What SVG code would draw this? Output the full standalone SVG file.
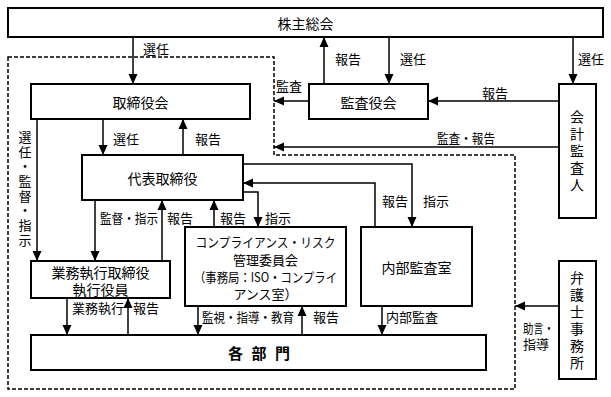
<svg xmlns="http://www.w3.org/2000/svg" width="611" height="397" viewBox="0 0 611 397">
<style>
.box{fill:#fff;stroke:#000;stroke-width:2}
.ar{fill:none;stroke:#000;stroke-width:1.5;marker-end:url(#ah)}
.dash{fill:none;stroke:#000;stroke-width:1.5;stroke-dasharray:4 2}
text{font-family:"Noto Sans CJK JP","Noto Sans CJK SC",sans-serif;fill:#000;dominant-baseline:central}
.n{font-size:14px;text-anchor:middle}
.s{font-size:13px;text-anchor:middle}
.l{font-size:13px}
.vl{font-size:13px;writing-mode:vertical-rl;letter-spacing:1.7px}
.vn{font-size:14px;writing-mode:vertical-rl;letter-spacing:3px}
.b{font-size:15px;font-weight:bold;text-anchor:middle}
</style>
<defs>
<marker id="ah" markerUnits="userSpaceOnUse" markerWidth="10" markerHeight="10" viewBox="0 0 10 10" refX="10" refY="5" orient="auto">
<path d="M0,0.5 L10,5 L0,9.5 Z" fill="#000"/>
</marker>
</defs>
<rect width="611" height="397" fill="#fff"/>
<path class="dash" d="M8,57 H274 V155 H515 V389 H8 Z"/>
<g id="connectors">
<path class="ar" d="M133,37 V84"/>
<path class="ar" d="M324,84 V37"/>
<path class="ar" d="M389,37 V84"/>
<path class="ar" d="M573,37 V84"/>
<path class="ar" d="M309,101 H274"/>
<path class="ar" d="M559,101 H428"/>
<path class="ar" d="M559,147 H274"/>
<path class="ar" d="M103,119 V155"/>
<path class="ar" d="M183,155 V119"/>
<path class="ar" d="M37,119 V261"/>
<path class="ar" d="M95,200 V261"/>
<path class="ar" d="M162,261 V200"/>
<path class="ar" d="M243,192 H258 V227"/>
<path class="ar" d="M214,227 V200"/>
<path class="ar" d="M243,164 H412 V227"/>
<path class="ar" d="M375,227 V183 H243"/>
<path class="ar" d="M67,298 V335"/>
<path class="ar" d="M128,335 V298"/>
<path class="ar" d="M198,306 V335"/>
<path class="ar" d="M302,335 V306"/>
<path class="ar" d="M382,306 V335"/>
<path class="ar" d="M559,306 H515"/>
<text class="l" x="143" y="48">選任</text>
<text class="l" x="335" y="58">報告</text>
<text class="l" x="400" y="58">選任</text>
<text class="l" x="578" y="58">選任</text>
<text class="l" x="276" y="85">監査</text>
<text class="l" x="482" y="92">報告</text>
<text class="l" x="437" y="137" textLength="58" lengthAdjust="spacingAndGlyphs">監査・報告</text>
<text class="l" x="113" y="138">選任</text>
<text class="l" x="195" y="138">報告</text>
<text class="vl" x="25" y="130.5">選任・監督・指示</text>
<text class="l" x="100" y="217" textLength="58" lengthAdjust="spacingAndGlyphs">監督・指示</text>
<text class="l" x="167" y="217">報告</text>
<text class="l" x="220" y="217">報告</text>
<text class="l" x="265" y="217">指示</text>
<text class="l" x="382" y="200">報告</text>
<text class="l" x="423" y="200">指示</text>
<text class="l" x="72" y="307">業務執行</text>
<text class="l" x="133" y="307">報告</text>
<text class="l" x="202" y="316" textLength="92" lengthAdjust="spacingAndGlyphs">監視・指導・教育</text>
<text class="l" x="313" y="316">報告</text>
<text class="l" x="386" y="316">内部監査</text>
<text class="l"><tspan x="523" y="327" textLength="31" lengthAdjust="spacingAndGlyphs">助言・</tspan><tspan x="523" y="343">指導</tspan></text>
</g>
<g id="shareholders"><rect class="box" x="8" y="8" width="595" height="29"/><text class="n" x="305.5" y="23">株主総会</text></g>
<g id="board"><rect class="box" x="31" y="84" width="219" height="35"/><text class="n" x="140.5" y="102">取締役会</text></g>
<g id="auditboard"><rect class="box" x="309" y="84" width="119" height="35"/><text class="n" x="368.5" y="102">監査役会</text></g>
<g id="accountant"><rect class="box" x="559" y="84" width="37" height="134"/><text class="vn" x="577" y="110">会計監査人</text></g>
<g id="ceo"><rect class="box" x="82" y="155" width="161" height="45"/><text class="n" x="162.5" y="178">代表取締役</text></g>
<g id="exec"><rect class="box" x="31" y="261" width="139" height="37"/><text class="n"><tspan x="100.5" y="271.5">業務執行取締役</tspan><tspan x="100.5" y="288.5">執行役員</tspan></text></g>
<g id="compliance"><rect class="box" x="185" y="227" width="161" height="79"/>
<text class="s"><tspan x="265.5" y="241" textLength="140" lengthAdjust="spacingAndGlyphs">コンプライアンス・リスク</tspan><tspan x="265.5" y="259">管理委員会</tspan><tspan x="265.5" y="276" textLength="143" lengthAdjust="spacingAndGlyphs">（事務局：ISO・コンプライ</tspan><tspan x="265.5" y="293">アンス室）</tspan></text></g>
<g id="internalaudit"><rect class="box" x="361" y="227" width="111" height="79"/><text class="n" x="416.5" y="267">内部監査室</text></g>
<g id="depts"><rect class="box" x="31" y="335" width="455" height="35"/><text class="b" x="259" y="352" textLength="62" lengthAdjust="spacing">各 部 門</text></g>
<g id="lawyer"><rect class="box" x="559" y="261" width="37" height="118"/><text class="vn" x="577" y="271">弁護士事務所</text></g>
</svg>
